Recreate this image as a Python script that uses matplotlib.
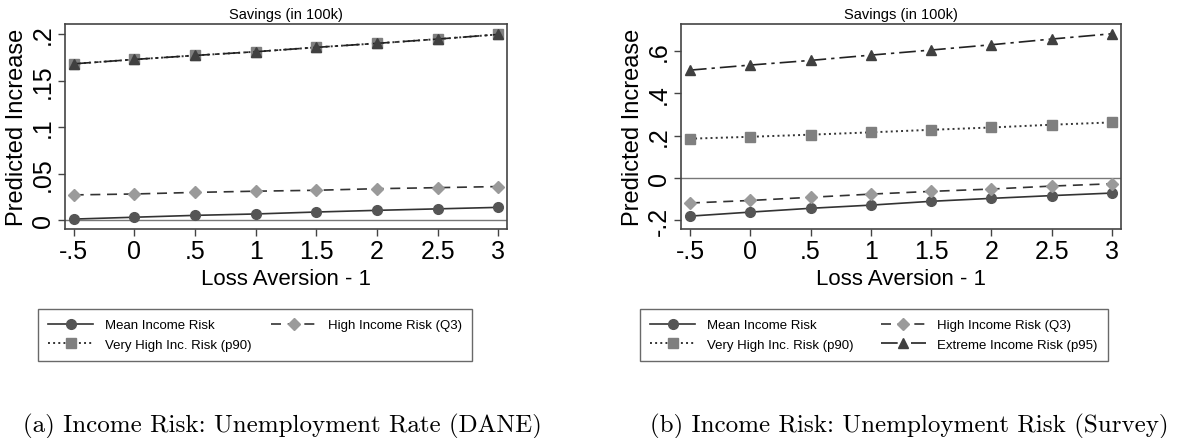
import matplotlib
matplotlib.use('Agg')
import matplotlib.pyplot as plt

plt.rcParams['font.family'] = ['Liberation Sans', 'DejaVu Sans']

# Loss aversion grid
loss_aversion = [-0.5, 0, 0.5, 1, 1.5, 2, 2.5, 3]
x_ticklabels = ['-.5', '0', '.5', '1', '1.5', '2', '2.5', '3']

# Panel (a): DANE unemployment rate
a_mean = [0.001, 0.003, 0.005, 0.0065, 0.0086, 0.0104, 0.012, 0.0136]
a_q3 = [0.027, 0.028, 0.0297, 0.031, 0.032, 0.0337, 0.0348, 0.036]
a_p90 = [0.168, 0.1727, 0.177, 0.181, 0.1857, 0.190, 0.1946, 0.1996]
a_p95 = [0.168, 0.1727, 0.177, 0.181, 0.1857, 0.190, 0.1946, 0.1996]
a_yticks = [0, 0.05, 0.1, 0.15, 0.2]
a_yticklabels = ['0', '.05', '.1', '.15', '.2']

# Panel (b): survey unemployment risk
b_mean = [-0.18, -0.161, -0.143, -0.128, -0.11, -0.096, -0.083, -0.071]
b_q3 = [-0.118, -0.106, -0.091, -0.076, -0.063, -0.052, -0.038, -0.027]
b_p90 = [0.186, 0.195, 0.205, 0.216, 0.228, 0.239, 0.252, 0.263]
b_p95 = [0.510, 0.534, 0.556, 0.581, 0.605, 0.630, 0.657, 0.682]
b_yticks = [-0.2, 0, 0.2, 0.4, 0.6]
b_yticklabels = ['-.2', '0', '.2', '.4', '.6']

labels = ['Mean Income Risk', 'High Income Risk (Q3)',
          'Very High Inc. Risk (p90)', 'Extreme Income Risk (p95)']

fig = plt.figure(figsize=(12.03, 4.39), dpi=100)


def draw_panel(ax, mean, q3, p90, p95, yticks, yticklabels, ylim, xlim):
    ax.axhline(0, color='#777777', lw=1.0, zorder=1)
    h_mean, = ax.plot(loss_aversion, mean, '-', color='#333333', lw=1.2,
                      marker='o', ms=7, mfc='#555555', mec='#555555')
    h_q3, = ax.plot(loss_aversion, q3, '--', color='#333333', lw=1.2,
                    dashes=(6, 4), marker='D', ms=6.5, mfc='#9a9a9a', mec='#9a9a9a')
    h_p90, = ax.plot(loss_aversion, p90, ':', color='#333333', lw=1.4,
                     marker='s', ms=7, mfc='#7f7f7f', mec='#7f7f7f')
    h_p95, = ax.plot(loss_aversion, p95, color='#222222', lw=1.2,
                     dashes=(10, 3, 2, 3), marker='^', ms=7.5,
                     mfc='#404040', mec='#404040')
    ax.set_xlim(*xlim)
    ax.set_ylim(*ylim)
    ax.set_xticks(loss_aversion)
    ax.set_xticklabels(x_ticklabels, fontsize=18)
    ax.set_yticks(yticks)
    ax.set_yticklabels(yticklabels, fontsize=18, rotation=90, va='center')
    ax.tick_params(direction='out', length=5, width=1, color='#444444', pad=2)
    for s in ax.spines.values():
        s.set_color('#444444')
        s.set_linewidth(1.2)
    ax.set_xlabel('Loss Aversion - 1', fontsize=16, labelpad=4)
    ax.set_ylabel('Predicted Increase', fontsize=17, labelpad=2)
    ax.set_title('Savings (in 100k)', fontsize=10.5, pad=4)
    return h_mean, h_q3, h_p90, h_p95


ax1 = fig.add_axes([0.054, 0.476, 0.3674, 0.467])
ha = draw_panel(ax1, a_mean, a_q3, a_p90, a_p95, a_yticks, a_yticklabels,
                (-0.0097, 0.2108), (-0.572, 3.072))
ax2 = fig.add_axes([0.566, 0.476, 0.3658, 0.467])
hb = draw_panel(ax2, b_mean, b_q3, b_p90, b_p95, b_yticks, b_yticklabels,
                (-0.241, 0.728), (-0.575, 3.075))

# matplotlib fills legend columns first, so reorder to read row by row
leg_kw = dict(ncol=2, fontsize=9.5, mode='expand', loc='center', frameon=True,
              fancybox=False, handlelength=3.4, handletextpad=0.9,
              columnspacing=2, borderpad=0.8, labelspacing=0.55)
leg_a = fig.legend([ha[0], ha[2], ha[1]], [labels[0], labels[2], labels[1]],
                   bbox_to_anchor=(31 / 1203, 1 - 364 / 439, 448 / 1203, 56 / 439),
                   **leg_kw)
leg_b = fig.legend([hb[0], hb[2], hb[1], hb[3]],
                   [labels[0], labels[2], labels[1], labels[3]],
                   bbox_to_anchor=(633 / 1203, 1 - 364 / 439, 482 / 1203, 56 / 439),
                   **leg_kw)
for leg in (leg_a, leg_b):
    leg.get_frame().set_edgecolor('#444444')
    leg.get_frame().set_linewidth(1.0)

fig.text(0.235, 1 - 426 / 439, '(a) Income Risk: Unemployment Rate (DANE)',
         ha='center', va='center', fontsize=18, family=['cmr10', 'DejaVu Serif'])
fig.text(0.756, 1 - 426 / 439, '(b) Income Risk: Unemployment Risk (Survey)',
         ha='center', va='center', fontsize=18, family=['cmr10', 'DejaVu Serif'])

fig.savefig('out.png', dpi=100)
